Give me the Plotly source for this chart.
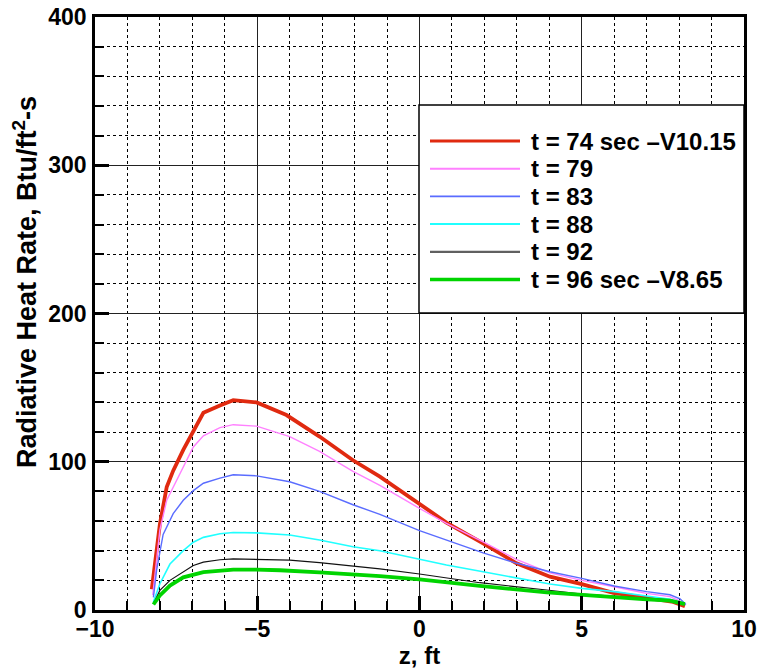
import plotly.graph_objects as go

# ---- data ----
labels = ["t = 74 sec \u2013V10.15", "t = 79", "t = 83", "t = 88", "t = 92", "t = 96 sec \u2013V8.65"]
colors = ["#e02a10", "#ff80ff", "#5a6cff", "#20ffff", "#111111", "#00d400"]
legend_colors = ["#e02a10", "#ff80ff", "#5a6cff", "#20ffff", "#606060", "#00d400"]
widths = [3.8, 1.4, 1.4, 1.6, 1.2, 3.8]
legend_widths = [3.2, 2.0, 1.6, 2.0, 2.2, 3.6]

x_title = "z, ft"
y_title = "Radiative Heat Rate, Btu/ft<sup>2</sup>-s"

z74 = [-8.25, -8.0, -7.79, -7.59, -7.28, -6.97, -6.66, -6.15, -5.74, -5.02, -4.10, -3.08, -2.05, -1.22,
       0.0, 0.83, 1.96, 2.99, 4.02, 5.0, 5.97, 7.0, 7.82, 8.18]
q74 = [14, 58, 83, 94, 108, 121, 133, 138, 141.5, 140, 131.5, 117, 101, 90,
       72, 59, 45, 31.5, 22.5, 17.5, 11.5, 8, 5.5, 2.5]

z79 = [-8.22, -8.0, -7.79, -7.59, -7.28, -6.97, -6.66, -6.15, -5.74, -5.02, -4.0, -3.08, -2.05, -1.22,
       0.0, 0.83, 1.96, 3.0, 4.02, 5.0, 6.0, 7.0, 7.72, 8.18]
q79 = [10, 54, 74, 83, 96, 110, 117.5, 123, 125, 124, 117, 107, 93.5, 84,
       68.5, 58.5, 46, 34, 25, 20, 15.7, 11.2, 9, 4.5]

z83 = [-8.2, -8.1, -7.9, -7.59, -7.28, -6.97, -6.66, -6.15, -5.74, -5.02, -4.0, -3.08, -2.05, -1.22,
       0.0, 0.83, 1.96, 3.0, 4.02, 5.0, 6.0, 7.0, 7.72, 8.03, 8.21]
q83 = [8.5, 27, 51, 65, 74, 80.5, 85.5, 89, 91.2, 90.5, 86.5, 80, 71, 64.5,
       53.5, 47, 38.5, 31.5, 25.8, 21.3, 16.2, 12.4, 10.3, 7.6, 3.7]

z88 = [-8.2, -8.0, -7.69, -7.28, -6.97, -6.66, -6.15, -5.74, -5.02, -4.0, -3.08, -2.05, -1.22,
       0.0, 0.83, 1.96, 3.0, 4.02, 5.0, 6.0, 7.0, 7.72, 8.18]
q88 = [5.3, 17.7, 31, 40, 45.7, 49, 51.4, 52.3, 52, 50.6, 47.2, 42.7, 40,
       34.2, 30.4, 25.8, 21.4, 17.5, 14.6, 12.4, 9.4, 7.2, 4.5]

z92 = [-8.2, -8.0, -7.69, -7.28, -6.97, -6.66, -6.15, -5.74, -5.02, -4.0, -3.08, -2.05, -1.22,
       0.0, 1.86, 3.92, 5.0, 7.0, 7.72, 8.18]
q92 = [4.2, 13.2, 20, 25.5, 30, 32.3, 33.9, 34.5, 34.2, 33.7, 31.9, 29.7, 27.7,
       24.3, 18.4, 13.5, 10.8, 7.9, 6.8, 4.5]

z96 = [-8.2, -8.0, -7.69, -7.28, -6.66, -6.15, -5.74, -5.02, -4.3, -3.08, -2.05, -1.22,
       0.0, 1.86, 3.92, 5.0, 7.0, 7.72, 8.18]
q96 = [3.7, 9.8, 16.5, 22, 25.5, 26.7, 27.3, 27.2, 26.8, 25.4, 24.1, 22.9,
       20.7, 16.2, 11.9, 10.1, 7.2, 6.3, 4]

series_z = [z74, z79, z83, z88, z92, z96]
series_q = [q74, q79, q83, q88, q92, q96]

FONT = "Liberation Sans, Arial, Helvetica, sans-serif"

fig = go.Figure()
for i in range(len(labels)):
    fig.add_trace(go.Scatter(x=series_z[i], y=series_q[i], mode="lines", name=labels[i],
                             line=dict(color=colors[i], width=widths[i]), showlegend=False))

W, H = 761, 670
ml, mr, mt, mb = 95, 17, 17, 60
pw, ph = W - ml - mr, H - mt - mb

def px2paper(px, py):
    return (px - ml) / pw, (H - mb - py) / ph

shapes = []
annotations = []
# legend box
bx0, by0 = px2paper(419, 313)
bx1, by1 = px2paper(744, 105)
shapes.append(dict(type="rect", xref="paper", yref="paper", x0=bx0, x1=bx1, y0=by0, y1=by1,
                   fillcolor="white", line=dict(color="black", width=1.5), layer="above"))
row0, step = 141.0, 27.7
for i, lab in enumerate(labels):
    py = row0 + i * step
    lx0, ly = px2paper(430, py)
    lx1, _ = px2paper(520, py)
    tx, _ = px2paper(529, py)
    shapes.append(dict(type="line", xref="paper", yref="paper", x0=lx0, x1=lx1, y0=ly, y1=ly,
                       line=dict(color=legend_colors[i], width=legend_widths[i]), layer="above"))
    annotations.append(dict(xref="paper", yref="paper", x=tx, y=ly, text=lab, showarrow=False,
                            xanchor="left", yanchor="middle",
                            font=dict(family=FONT, size=24, color="black", weight="bold")))

# y-axis title (placed as in the reference, slightly above centre)
tyx, tyy = px2paper(25, 282)
annotations.append(dict(xref="paper", yref="paper", x=tyx, y=tyy, text=y_title, showarrow=False,
                        textangle=-90, xanchor="center", yanchor="middle",
                        font=dict(family=FONT, size=27, color="black", weight="bold")))

axis_common = dict(
    showline=True, linecolor="black", linewidth=2.5, mirror=True,
    ticks="inside", ticklen=14, tickwidth=2.5, tickcolor="black",
    showgrid=True, gridcolor="#222222", gridwidth=1, zeroline=False,
    automargin=False,
    tickfont=dict(family=FONT, size=23, color="black", weight="bold"),
)

fig.update_layout(
    width=W, height=H,
    margin=dict(l=ml, r=mr, t=mt, b=mb),
    paper_bgcolor="white", plot_bgcolor="white",
    font=dict(family=FONT, color="black"),
    showlegend=False,
    shapes=shapes, annotations=annotations,
    xaxis=dict(range=[-10, 10], tick0=0, dtick=5,
               minor=dict(dtick=1, ticks="inside", ticklen=9, tickwidth=1.5, tickcolor="black",
                          showgrid=True, gridcolor="black", griddash="dot", gridwidth=1),
               title=dict(text=x_title, standoff=2,
                          font=dict(family=FONT, size=24, color="black", weight="bold")),
               ticklabelstandoff=-3,
               **axis_common),
    yaxis=dict(range=[0, 400], tick0=0, dtick=100,
               minor=dict(dtick=20, ticks="inside", ticklen=9, tickwidth=1.5, tickcolor="black",
                          showgrid=True, gridcolor="black", griddash="dot", gridwidth=1),
               ticklabelstandoff=1,
               **axis_common),
)

fig.write_html("out.html")
